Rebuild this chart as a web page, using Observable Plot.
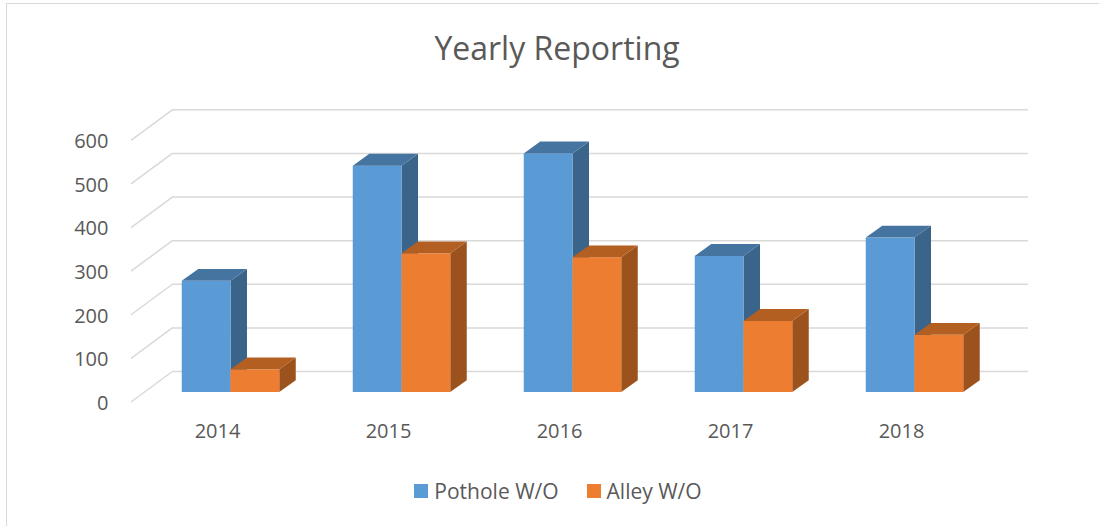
<!DOCTYPE html>
<html>
<head>
<meta charset="utf-8">
<script src="https://cdn.jsdelivr.net/npm/d3@7"></script>
<script src="https://cdn.jsdelivr.net/npm/@observablehq/plot@0.6"></script>
<style>
  html, body { margin: 0; padding: 0; background: #fff; }
  #wrap { position: relative; width: 1099px; height: 526px; overflow: hidden; font-family: "Open Sans", sans-serif; }
  #border { position: absolute; left: 6px; top: 3px; width: 1200px; height: 600px; border-left: 1.5px solid #d9d9d9; border-top: 1.5px solid #d9d9d9; box-sizing: border-box; }
  #title { position: absolute; left: 0; width: 1114px; top: 26px; text-align: center; font-size: 32px; color: #595959; line-height: 44px; }
  #legend { position: absolute; left: 0; top: 477px; width: 1099px; display: flex; justify-content: center; gap: 28px; font-size: 21px; color: #595959; line-height: 28px; padding-left: 17px; box-sizing: border-box; }
  .item { display: flex; align-items: center; gap: 6px; }
  .sw { width: 14px; height: 14px; display: inline-block; }
  #chart { position: absolute; left: 0; top: 0; }
</style>
</head>
<body>
<div id="wrap">
  <div id="border"></div>
  <div id="chart"></div>
  <div id="title">Yearly Reporting</div>
  <div id="legend"></div>
</div>
<script>
const years = ["2014", "2015", "2016", "2017", "2018"];
const potholeWO = [255, 519, 547, 312, 354];
const alleyWO = [52, 318, 309, 163, 131];
const yTicks = [0, 100, 200, 300, 400, 500, 600];
const seriesNames = ["Pothole W/O", "Alley W/O"];
const seriesColors = {
  "Pothole W/O": {front: "#5b9bd5", side: "#3a6489", top: "#4674a0"},
  "Alley W/O": {front: "#ed7d31", side: "#9b521d", top: "#b45f22"}
};

const potholeData = years.map((year, i) => ({year, value: potholeWO[i]}));
const alleyData = years.map((year, i) => ({year, value: alleyWO[i]}));

// 3D projection offsets (pixels)
const DEPTH = {dx: 16.5, dy: -11.8};   // bar depth
const BACK = {dx: 28.5, dy: -21};      // back wall relative to bar plane
const FRONT = {dx: -13.5, dy: 10};     // front floor edge relative to bar plane
const BAR_W = 48.75;

function box3d(data, insetLeft, colors) {
  return Plot.barY(data, {
    x: "year",
    y: "value",
    render(index, scales, values) {
      const g = d3.create("svg:g");
      for (const i of index) {
        const xa = values.x[i] + insetLeft, xb = xa + BAR_W;
        const yt = Math.min(values.y1[i], values.y2[i]);
        const yb = Math.max(values.y1[i], values.y2[i]);
        g.append("polygon")
          .attr("points", [[xb, yt], [xb + DEPTH.dx, yt + DEPTH.dy], [xb + DEPTH.dx, yb + DEPTH.dy], [xb, yb]].join(" "))
          .attr("fill", colors.side);
        g.append("rect")
          .attr("x", xa).attr("y", yt).attr("width", BAR_W).attr("height", yb - yt)
          .attr("fill", colors.front);
        g.append("polygon")
          .attr("points", [[xa, yt], [xa + DEPTH.dx, yt + DEPTH.dy], [xb + DEPTH.dx, yt + DEPTH.dy], [xb, yt]].join(" "))
          .attr("fill", colors.top);
      }
      return g.node();
    }
  });
}

const W = 1099, H = 526;
const mL = 144.5, mR = 99.5, mT = 130.3, mB = 134;
const bandW = (W - mL - mR) / years.length;
const center = bandW / 2;

const gridColor = "#d9d9d9";

const plot = Plot.plot({
  width: W,
  height: H,
  marginLeft: mL,
  marginRight: mR,
  marginTop: mT,
  marginBottom: mB,
  x: {domain: years, padding: 0, axis: null},
  y: {domain: [0, 600], axis: null},
  style: {fontFamily: "Open Sans, sans-serif", background: "transparent", overflow: "visible"},
  marks: [
    // back wall gridlines
    Plot.ruleY(yTicks, {dx: BACK.dx, dy: BACK.dy, stroke: gridColor, strokeWidth: 1.5, strokeOpacity: 1}),
    // side-floor diagonals from front edge to back wall
    Plot.ruleY(yTicks, {
      render(index, scales, values, dimensions) {
        const g = d3.create("svg:g");
        const x0 = dimensions.marginLeft;
        for (const i of index) {
          const y = values.y[i];
          g.append("line")
            .attr("x1", x0 + FRONT.dx).attr("y1", y + FRONT.dy)
            .attr("x2", x0 + BACK.dx).attr("y2", y + BACK.dy)
            .attr("stroke", gridColor).attr("stroke-width", 1.5);
        }
        return g.node();
      }
    }),
    // y tick labels
    Plot.text(yTicks, {
      y: d => d, frameAnchor: "left", textAnchor: "end", dx: -36.5, dy: FRONT.dy + 1,
      text: d => String(d), fill: "#595959", fontSize: 20
    }),
    // x tick labels
    Plot.text(years, {
      x: d => d, frameAnchor: "bottom", textAnchor: "middle", dx: FRONT.dx, dy: 45,
      text: d => d, fill: "#595959", fontSize: 20
    }),
    box3d(potholeData, center - BAR_W, seriesColors["Pothole W/O"]),
    box3d(alleyData, center, seriesColors["Alley W/O"])
  ]
});

document.getElementById("chart").appendChild(plot);

const legend = document.getElementById("legend");
for (const name of seriesNames) {
  const it = document.createElement("div");
  it.className = "item";
  const sw = document.createElement("span");
  sw.className = "sw";
  sw.style.background = seriesColors[name].front;
  const lab = document.createElement("span");
  lab.textContent = name;
  it.appendChild(sw);
  it.appendChild(lab);
  legend.appendChild(it);
}
</script>
</body>
</html>
